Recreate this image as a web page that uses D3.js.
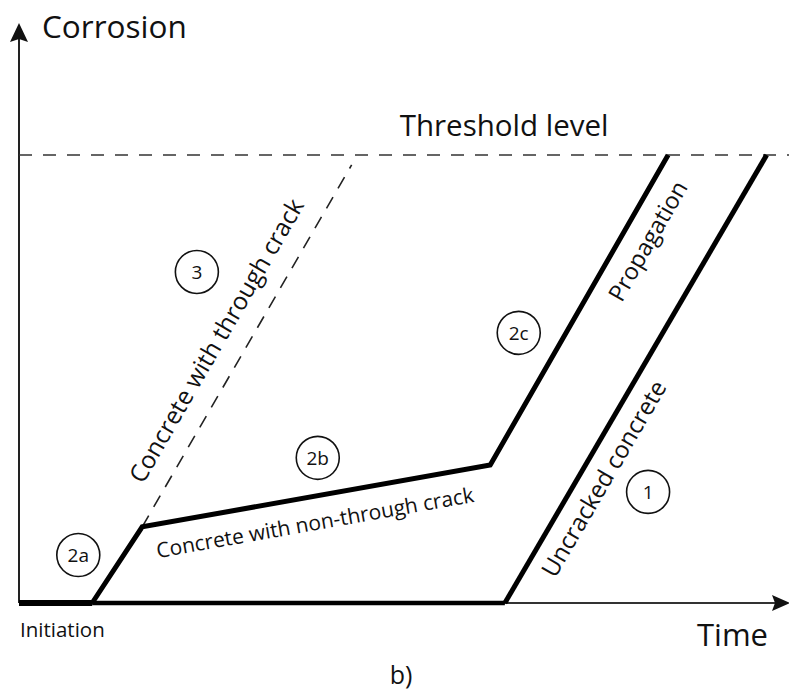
<!DOCTYPE html>
<html>
<head>
<meta charset="utf-8">
<script src="https://cdn.jsdelivr.net/npm/d3@7"></script>
<style>
  html, body { margin: 0; padding: 0; background: #fff; }
  svg text { font-family: "Open Sans", "Noto Sans", sans-serif; fill: #111; }
</style>
</head>
<body>
<div id="chart"></div>
<script>
// time / corrosion in arbitrary units, threshold = 100
const threshold = 100;
const initiation = [[0, 0], [9.5, 0]];
const nonThroughCrack = [[9.5, 0], [16.0, 17.0], [61.2, 30.8], [84.3, 100]];
const throughCrack = [[16.0, 17.0], [43.2, 97.8]];
const uncrackedFlat = [[9.5, 0], [63.1, 0]];
const uncracked = [[63.1, 0], [97.1, 100]];

const markers = ['3', '2c', '2b', '2a', '1'];
const markerPos = [[23.1, 73.9], [64.9, 60.3], [38.8, 32.4], [7.7, 10.7], [81.7, 24.8]];

const slopeLabels = ['Concrete with through crack', 'Concrete with non-through crack', 'Propagation', 'Uncracked concrete'];
const slopeLabelPos = [[26.6, 57.6], [38.6, 16.3], [82.6, 79.9], [76.9, 26.8]];

const width = 789;
const height = 690;
const margin = { top: 23, right: 0, bottom: 87, left: 19 };

const svg = d3.select('#chart')
  .append('svg')
  .attr('width', width)
  .attr('height', height);

const x = d3.scaleLinear().domain([0, 100]).range([margin.left, width - margin.right]);
const y = d3.scaleLinear().domain([0, 100]).range([height - margin.bottom, 155]);
const y0 = y(0);

const line = d3.line().x(d => x(d[0])).y(d => y(d[1]));

// axes
svg.append('line')
  .attr('x1', x(0)).attr('x2', x(0))
  .attr('y1', y0).attr('y2', margin.top + 10)
  .attr('stroke', '#222').attr('stroke-width', 2);
svg.append('path')
  .attr('d', `M${x(0)},${margin.top} L${x(0) + 9},${margin.top + 19} L${x(0)},${margin.top + 16} L${x(0) - 9},${margin.top + 19} Z`)
  .attr('fill', '#111');

svg.append('line')
  .attr('x1', x(0)).attr('x2', width - 10)
  .attr('y1', y0).attr('y2', y0)
  .attr('stroke', '#333').attr('stroke-width', 2);
svg.append('path')
  .attr('d', `M${width + 1},${y0} L${width - 17},${y0 - 8} L${width - 14},${y0} L${width - 17},${y0 + 8} Z`)
  .attr('fill', '#111');

// threshold
svg.append('line')
  .attr('x1', x(0)).attr('x2', width)
  .attr('y1', y(threshold)).attr('y2', y(threshold))
  .attr('stroke', '#333').attr('stroke-width', 1.6)
  .attr('stroke-dasharray', '13 11');

svg.append('path')
  .attr('d', line(throughCrack))
  .attr('fill', 'none').attr('stroke', '#222')
  .attr('stroke-width', 1.6).attr('stroke-dasharray', '13 10');

svg.append('path')
  .attr('d', line(initiation))
  .attr('fill', 'none').attr('stroke', '#000').attr('stroke-width', 6);
svg.append('path')
  .attr('d', line(uncrackedFlat))
  .attr('fill', 'none').attr('stroke', '#000').attr('stroke-width', 4.5);

[nonThroughCrack, uncracked].forEach(pts => {
  svg.append('path')
    .attr('d', line(pts))
    .attr('fill', 'none').attr('stroke', '#000')
    .attr('stroke-width', 5).attr('stroke-linejoin', 'miter');
});

// circled markers
const mk = svg.selectAll('.marker')
  .data(markers)
  .enter()
  .append('g')
  .attr('class', 'marker')
  .attr('transform', (d, i) => `translate(${x(markerPos[i][0])},${y(markerPos[i][1])})`);
mk.append('circle')
  .attr('r', 21.5)
  .attr('fill', 'none').attr('stroke', '#111').attr('stroke-width', 1.6);
mk.append('text')
  .attr('text-anchor', 'middle')
  .attr('dy', '0.36em')
  .attr('font-size', '19px')
  .text(d => d);

// labels along the lines
const angles = [
  Math.atan2(y(throughCrack[1][1]) - y(throughCrack[0][1]), x(throughCrack[1][0]) - x(throughCrack[0][0])),
  Math.atan2(y(nonThroughCrack[2][1]) - y(nonThroughCrack[1][1]), x(nonThroughCrack[2][0]) - x(nonThroughCrack[1][0])),
  Math.atan2(y(nonThroughCrack[3][1]) - y(nonThroughCrack[2][1]), x(nonThroughCrack[3][0]) - x(nonThroughCrack[2][0])),
  Math.atan2(y(uncracked[1][1]) - y(uncracked[0][1]), x(uncracked[1][0]) - x(uncracked[0][0]))
];
const labelSizes = [24.5, 21, 23.5, 24];

svg.selectAll('.slope-label')
  .data(slopeLabels)
  .enter()
  .append('text')
  .attr('class', 'slope-label')
  .attr('text-anchor', 'middle')
  .attr('font-size', (d, i) => labelSizes[i] + 'px')
  .attr('transform', (d, i) => `translate(${x(slopeLabelPos[i][0])},${y(slopeLabelPos[i][1])}) rotate(${angles[i] * 180 / Math.PI})`)
  .text(d => d);

// titles
svg.append('text')
  .attr('x', 42).attr('y', 38)
  .attr('font-size', '31.5px')
  .text('Corrosion');

svg.append('text')
  .attr('x', x(63)).attr('y', y(threshold) - 19)
  .attr('text-anchor', 'middle')
  .attr('font-size', '29.5px')
  .text('Threshold level');

svg.append('text')
  .attr('x', 768).attr('y', 646)
  .attr('text-anchor', 'end')
  .attr('font-size', '31px')
  .text('Time');

svg.append('text')
  .attr('x', 20).attr('y', 637)
  .attr('font-size', '20.5px')
  .text('Initiation');

svg.append('text')
  .attr('x', 401).attr('y', 684)
  .attr('text-anchor', 'middle')
  .attr('font-size', '25px')
  .text('b)');
</script>
</body>
</html>
